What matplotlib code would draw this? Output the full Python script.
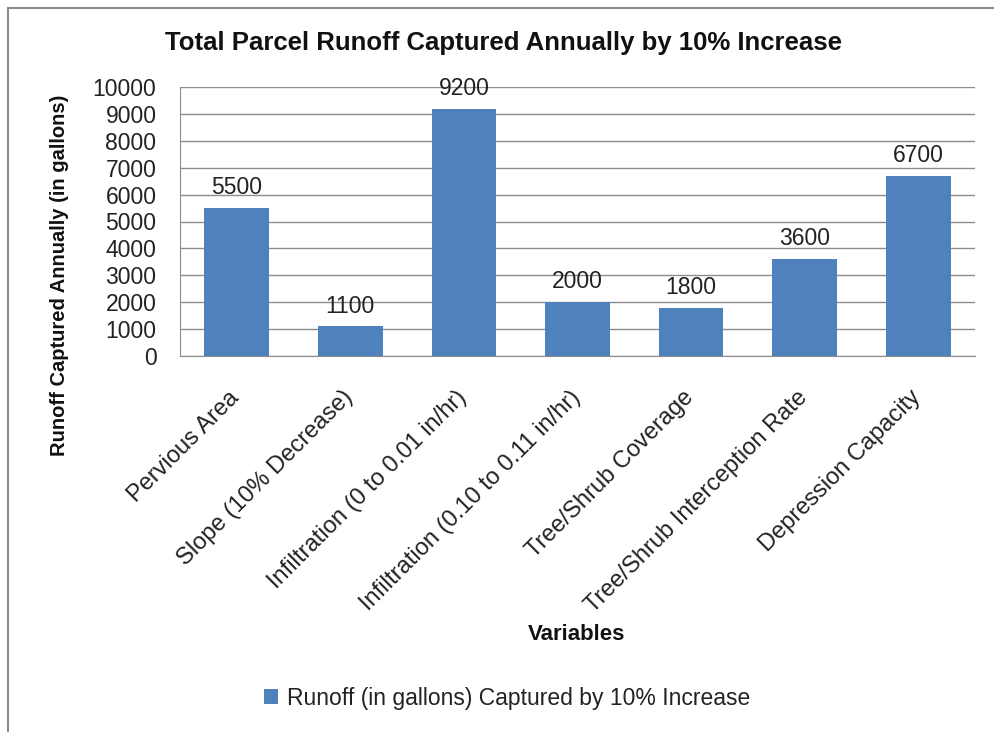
import matplotlib.pyplot as plt
import matplotlib.patches as mpatches
from matplotlib.transforms import ScaledTranslation

categories = ['Pervious Area', 'Slope (10% Decrease)', 'Infiltration (0 to 0.01 in/hr)',
              'Infiltration (0.10 to 0.11 in/hr)', 'Tree/Shrub Coverage',
              'Tree/Shrub Interception Rate', 'Depression Capacity']
runoff = [5500, 1100, 9200, 2000, 1800, 3600, 6700]
yticks = list(range(0, 10001, 1000))

plt.rcParams['font.family'] = ['Liberation Sans', 'DejaVu Sans']

fig = plt.figure(figsize=(9.94, 7.32), dpi=100)
ax = fig.add_axes([180/994, 1-356/732, 795/994, 269/732])

# outer chart frame
fig.patches.append(mpatches.Rectangle((8/994, -0.01), 1.0, 1-8/732+0.01,
                                      transform=fig.transFigure, fill=False,
                                      edgecolor='#8c8c8c', linewidth=1.5))

x = range(len(categories))
bars = ax.bar(x, runoff, width=0.57, color='#4f81bd', zorder=3,
              label='Runoff (in gallons) Captured by 10% Increase')
for xi, v in zip(x, runoff):
    ax.text(xi, v + 330, str(v), ha='center', va='bottom', fontsize=16.5, color='#222222')

ax.set_xlim(-0.5, len(categories) - 0.5)
ax.set_ylim(0, 10000)
ax.set_yticks(yticks)
ax.set_yticklabels([str(t) for t in yticks], fontsize=16.5, color='#222222')
ax.yaxis.grid(True, color='#8c8c8c', linewidth=1, zorder=0)
ax.tick_params(axis='y', length=0, pad=17)
ax.tick_params(axis='x', length=0, pad=16)
ax.set_xticks(list(x))
ax.set_xticklabels(categories, rotation=45, ha='right', rotation_mode='anchor',
                   fontsize=17, color='#222222')
# nudge the slanted labels down-left a little
shift = ScaledTranslation(-6/72, -6/72, fig.dpi_scale_trans)
for lbl in ax.get_xticklabels():
    lbl.set_transform(lbl.get_transform() + shift)
for s in ['top', 'right']:
    ax.spines[s].set_visible(False)
for s in ['left', 'bottom']:
    ax.spines[s].set_color('#8c8c8c')

fig.text(503/994, 1-43/732, 'Total Parcel Runoff Captured Annually by 10% Increase',
         ha='center', va='center', fontsize=18.5, fontweight='bold', color='#111111')
fig.text(60/994, 1-275/732, 'Runoff Captured Annually (in gallons)', rotation=90,
         ha='center', va='center', fontsize=14.5, fontweight='bold', color='#111111')
fig.text(577/994, 1-634/732, 'Variables', ha='center', va='center',
         fontsize=16, fontweight='bold', color='#111111')

fig.legend(handles=[bars], loc='center', bbox_to_anchor=(507/994, 1-698/732),
           frameon=False, fontsize=16.5, handlelength=0.6, handleheight=0.6,
           handletextpad=0.4, labelcolor='#222222')

fig.savefig('out.png', dpi=100)
